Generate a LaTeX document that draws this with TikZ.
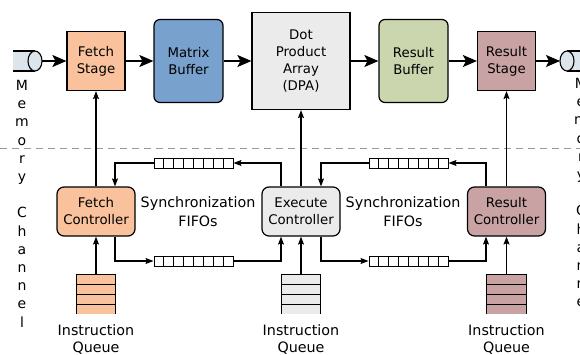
\documentclass[tikz,border=0pt]{standalone}
\usepackage{fontspec}
\setmainfont{DejaVu Sans}
\usetikzlibrary{arrows.meta,calc}

\definecolor{peach}{HTML}{F9C29C}
\definecolor{mbblue}{HTML}{78A1CD}
\definecolor{dpagray}{HTML}{EBEBEB}
\definecolor{rbgreen}{HTML}{CBD6AE}
\definecolor{rose}{HTML}{C9A2A4}
\definecolor{cylfill}{HTML}{DCE5EB}
\definecolor{dashgray}{HTML}{9A9A9A}

\tikzset{
  boxline/.style={draw=black, line width=1.2pt},
  stagebox/.style={boxline, minimum width=58pt, minimum height=59pt, inner sep=0pt,
    align=center, font=\fontsize{13.3}{17}\selectfont},
  bufbox/.style={boxline, rounded corners=6pt, minimum width=69pt, minimum height=83pt,
    inner sep=0pt, align=center, font=\fontsize{13.3}{17}\selectfont},
  ctrlbox/.style={boxline, rounded corners=7pt, minimum width=78pt, minimum height=49pt,
    inner sep=0pt, align=center, font=\fontsize{13.3}{17}\selectfont},
  fifobox/.style={draw=black, line width=1pt, fill=white, minimum width=79pt,
    minimum height=10pt, inner sep=0pt},
  fifoline/.style={draw=black, line width=1pt},
  queuebox/.style={minimum width=39pt, minimum height=39pt, inner sep=0pt},
  bigarrow/.style={line width=1.1pt, -{Stealth[length=14pt,width=12pt,inset=3pt]}},
  smallarrow/.style={line width=1.1pt, -{Stealth[length=8pt,width=6pt,inset=1.5pt]}},
  lbl/.style={align=center, inner sep=0pt, font=\fontsize{14.3}{19}\selectfont},
  qlbl/.style={align=center, inner sep=0pt, font=\fontsize{14.3}{17}\selectfont},
  chanlbl/.style={align=center, inner sep=0pt, font=\fontsize{14}{18.2}\selectfont},
}

% synchronization FIFO: a strip of eight cells
\newcommand\fifoat[2]{%
  \node[fifobox] (#1) at (#2) {};
  \foreach \k in {1,...,7}{%
    \draw[fifoline] ($(#1.south west)!\k/8!(#1.south east)$) --
                    ($(#1.north west)!\k/8!(#1.north east)$);}
}
% instruction queue: open-bottomed stack of four slots
\newcommand\queueat[3]{%
  \node[queuebox, fill=#3] (#1) at (#2) {};
  \draw[boxline] (#1.south west) -- (#1.north west) -- (#1.north east) -- (#1.south east);
  \foreach \k in {1,2,3}{%
    \draw[boxline] ($(#1.north west)!\k/4!(#1.south west)$) --
                   ($(#1.north east)!\k/4!(#1.south east)$);}
}

\begin{document}
\begin{tikzpicture}[x=1pt, y=-1pt]
\useasboundingbox (0,0) rectangle (580,354);
\fill[white] (0,0) rectangle (580,354);

% boundary between datapath and control
\draw[dashgray, line width=0.9pt, dash pattern=on 7pt off 5pt] (0,148) -- (580,148);

% memory channels
\fill[cylfill] (13,51) rectangle (35,71);
\draw[line width=1.1pt] (13,51) -- (35,51) (13,71) -- (35,71);
\draw[line width=1.1pt, fill=cylfill] (35,61) ellipse [x radius=7, y radius=10];
\coordinate (cylL) at (42,61);

\fill[cylfill] (567,51) rectangle (600,71);
\draw[line width=1.1pt] (567,51) -- (600,51) (567,71) -- (600,71);
\draw[line width=1.1pt, fill=cylfill] (567,61) ellipse [x radius=7, y radius=10];
\coordinate (cylR) at (560,61);

\node[chanlbl, anchor=north] (memL) at (22,80) {M\\e\\m\\o\\r\\y\\ \\C\\h\\a\\n\\n\\e\\l};
\node[chanlbl, anchor=north] (memR) at (581,78) {M\\e\\m\\o\\r\\y\\ \\C\\h\\a\\n\\n\\e\\l};

% datapath
\node[stagebox, fill=peach] (fs) at (96,61) {Fetch\\Stage};
\node[bufbox, fill=mbblue] (mb) at (188.5,61) {Matrix\\Buffer};
\node[stagebox, fill=dpagray, minimum width=98pt, minimum height=97pt] (dpa) at (301,61)
  {Dot\\Product\\Array\\(DPA)};
\node[bufbox, fill=rbgreen] (rb) at (413.5,61) {Result\\Buffer};
\node[stagebox, fill=rose] (rs) at (506.5,61) {Result\\Stage};

\draw[bigarrow] (cylL) -- (fs);
\draw[bigarrow] (fs) -- (mb);
\draw[bigarrow] (mb) -- (dpa);
\draw[bigarrow] (dpa) -- (rb);
\draw[bigarrow] (rb) -- (rs);
\draw[bigarrow] (rs) -- (cylR);

% controllers
\node[ctrlbox, fill=peach] (fc) at (96,211.5) {Fetch\\Controller};
\node[ctrlbox, fill=dpagray] (ec) at (301,211.5) {Execute\\Controller};
\node[ctrlbox, fill=rose] (rc) at (506.5,211.5) {Result\\Controller};

\draw[smallarrow] (fc) -- (fs);
\draw[smallarrow] (ec) -- (dpa);
\draw[smallarrow] (rc) -- (rs);

% instruction queues
\queueat{fq}{96,294.5}{peach}
\queueat{eq}{301,294.5}{dpagray}
\queueat{rq}{506.5,294.5}{rose}

\draw[smallarrow] (fq.north) -- (fc.south);
\draw[smallarrow] (eq.north) -- (ec.south);
\draw[smallarrow] (rq.north) -- (rc.south);

\node[qlbl] (fql) at (96,339) {Instruction\\Queue};
\node[qlbl] (eql) at (301,339) {Instruction\\Queue};
\node[qlbl] (rql) at (506.5,339) {Instruction\\Queue};

% synchronization FIFOs
\fifoat{f1}{193.5,163}
\fifoat{f2}{193.5,261}
\fifoat{f3}{408.5,163}
\fifoat{f4}{408.5,261}

\draw[smallarrow] ([xshift=-20pt]ec.north) |- (f1.east);
\draw[smallarrow] (f1.west) -| ([xshift=19pt]fc.north);
\draw[smallarrow] ([xshift=19pt]fc.south) |- (f2.west);
\draw[smallarrow] (f2.east) -| ([xshift=-20pt]ec.south);

\draw[smallarrow] ([xshift=-20.5pt]rc.north) |- (f3.east);
\draw[smallarrow] (f3.west) -| ([xshift=20pt]ec.north);
\draw[smallarrow] ([xshift=20pt]ec.south) |- (f4.west);
\draw[smallarrow] (f4.east) -| ([xshift=-20.5pt]rc.south);

\node[lbl] (s1) at (198,212) {Synchronization\\FIFOs};
\node[lbl] (s2) at (403,212) {Synchronization\\FIFOs};

\end{tikzpicture}
\end{document}
